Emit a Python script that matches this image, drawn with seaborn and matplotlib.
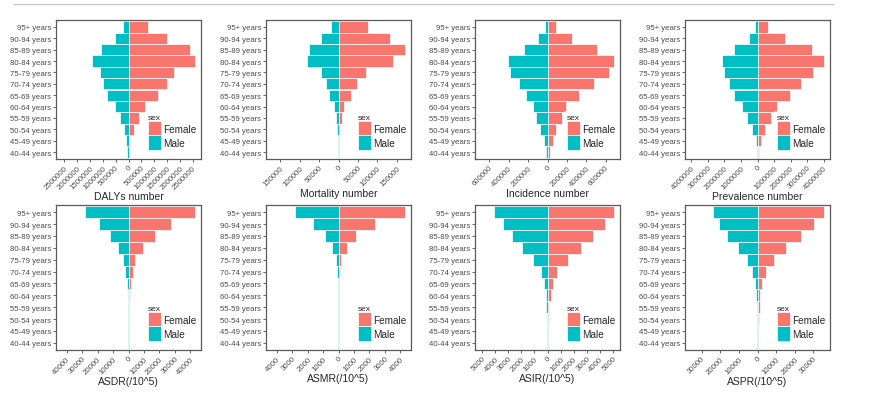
import matplotlib
matplotlib.use("Agg")
import matplotlib.pyplot as plt
from matplotlib.lines import Line2D
import seaborn as sns
import numpy as np
import pandas as pd

ages = ['95+ years', '90-94 years', '85-89 years', '80-84 years', '75-79 years',
        '70-74 years', '65-69 years', '60-64 years', '55-59 years', '50-54 years',
        '45-49 years', '40-44 years']

# top row: counts
dalys_female = [740000, 1500000, 2410000, 2590000, 1770000, 1480000, 1130000, 650000, 420000, 200000, 70000, 20000]
dalys_male = [210000, 520000, 1080000, 1410000, 1110000, 990000, 830000, 520000, 340000, 170000, 80000, 40000]
mort_female = [74600, 133000, 171000, 141000, 70000, 47000, 31000, 15000, 8000, 4000, 2000, 1000]
mort_male = [20000, 45000, 76000, 80000, 45000, 33000, 24000, 12000, 7000, 3400, 1700, 1000]
inc_female = [90000, 253000, 507000, 687000, 639000, 476000, 330000, 191000, 149000, 90000, 52000, 21000]
inc_male = [28000, 94000, 247000, 403000, 389000, 299000, 226000, 149000, 122000, 73000, 38000, 17000]
prev_female = [640000, 1680000, 3320000, 4020000, 3380000, 2640000, 1960000, 1200000, 840000, 480000, 240000, 100000]
prev_male = [140000, 540000, 1440000, 2160000, 2040000, 1720000, 1420000, 920000, 660000, 360000, 120000, 40000]

# bottom row: rates per 100k
asdr_female = [43000, 27400, 17000, 9600, 4300, 2600, 1300, 900, 500, 300, 200, 100]
asdr_male = [28300, 18900, 12000, 7000, 3300, 2000, 1100, 600, 400, 200, 100, 50]
asmr_female = [4320, 2380, 1160, 546, 175, 90, 45, 20, 10, 5, 3, 2]
asmr_male = [2820, 1660, 873, 393, 153, 70, 40, 18, 9, 4, 2, 1]
asir_female = [5080, 4360, 3440, 2540, 1540, 740, 385, 230, 150, 100, 50, 25]
asir_male = [4100, 3410, 2720, 1920, 1080, 510, 260, 150, 100, 50, 25, 15]
aspr_female = [35700, 30200, 23200, 15300, 8600, 4300, 2500, 1600, 1100, 700, 500, 300]
aspr_male = [24100, 20600, 16300, 10600, 5600, 2900, 1600, 900, 500, 360, 200, 100]

panels = [
    ('DALYs number', dalys_female, dalys_male, 500000, 2500000),
    ('Mortality number', mort_female, mort_male, 50000, 150000),
    ('Incidence number', inc_female, inc_male, 200000, 600000),
    ('Prevalence number', prev_female, prev_male, 1000000, 4000000),
    ('ASDR(/10^5)', asdr_female, asdr_male, 10000, 40000),
    ('ASMR(/10^5)', asmr_female, asmr_male, 1000, 4000),
    ('ASIR(/10^5)', asir_female, asir_male, 1000, 5000),
    ('ASPR(/10^5)', aspr_female, aspr_male, 10000, 30000),
]

palette = {'Female': '#F8766D', 'Male': '#00BFC4'}

sns.set_style('white')
plt.rcParams['font.family'] = ['Liberation Sans', 'DejaVu Sans']

fig = plt.figure(figsize=(8.71, 4.02), dpi=100)
W, H = 871, 402

# axes boxes in pixels: (x0, x1, y0, y1)
cols = [(56, 201), (266, 411), (475, 620), (685, 830)]
rows = [(21, 160), (206, 351)]

fig.add_artist(Line2D([14 / W, 833 / W], [1 - 5 / H, 1 - 5 / H], color='#c8c8c8', lw=1))

for i, (label, fem, mal, step, tmax) in enumerate(panels):
    r, c = divmod(i, 4)
    x0, x1 = cols[c]
    y0, y1 = rows[r]
    ax = fig.add_axes([x0 / W, 1 - y1 / H, (x1 - x0) / W, (y1 - y0) / H])

    df = pd.DataFrame({
        'age': ages * 2,
        'value': list(fem) + [-v for v in mal],
        'sex': ['Female'] * len(ages) + ['Male'] * len(ages),
    })
    sns.barplot(data=df, x='value', y='age', hue='sex', order=ages,
                hue_order=['Female', 'Male'], palette=palette, dodge=False,
                saturation=1, width=1.0, edgecolor='white', linewidth=0.5,
                orient='h', ax=ax)

    lim = max(max(fem), max(mal)) * 1.09
    ax.set_xlim(-lim, lim)
    ax.set_ylim(len(ages) - 0.4, -0.6)
    ticks = np.arange(-tmax, tmax + step / 2, step)
    ax.set_xticks(ticks)
    ax.set_xticklabels([f'{abs(int(t))}' for t in ticks], rotation=45,
                       ha='right', va='top', rotation_mode='anchor')
    ax.set_xlabel(label, fontsize=7.5, labelpad=0.5)
    ax.set_ylabel('')
    ax.tick_params(axis='both', labelsize=5.6, colors='#4D4D4D', length=2,
                   width=0.6, pad=1.5, bottom=True, left=True)
    for s in ax.spines.values():
        s.set_color('#5a5a5a')
        s.set_linewidth(0.9)

    leg = ax.legend(title='sex', loc='lower left', bbox_to_anchor=(0.58, 0.01),
                    fontsize=7.2, title_fontsize=6, frameon=True,
                    handlelength=1.3, handleheight=1.8, handletextpad=0.25,
                    labelspacing=0.0, borderpad=0.3, alignment='left')
    leg.get_frame().set_facecolor('white')
    leg.get_frame().set_edgecolor('none')
    for h in leg.legend_handles:
        h.set_edgecolor('white')
        h.set_linewidth(0.5)

fig.savefig('out.png', dpi=100)
